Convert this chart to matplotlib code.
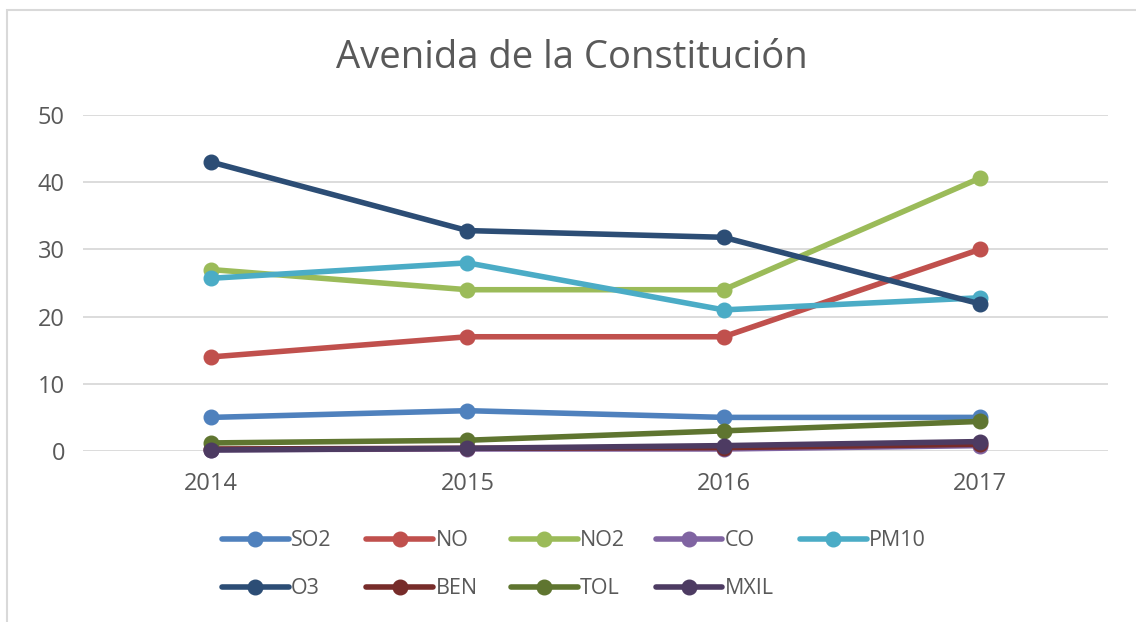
import matplotlib
matplotlib.use("Agg")
import matplotlib.pyplot as plt
from matplotlib.patches import Rectangle

years = ["2014", "2015", "2016", "2017"]
series_names = ["SO2", "NO", "NO2", "CO", "PM10", "O3", "BEN", "TOL", "MXIL"]
so2 = [5, 6, 5, 5]
no = [14, 17, 17, 30]
no2 = [27, 24, 24, 40.6]
co = [0.2, 0.3, 0.3, 0.8]
pm10 = [25.7, 28, 21, 22.8]
o3 = [43, 32.8, 31.8, 21.9]
ben = [0.3, 0.4, 0.5, 1.0]
tol = [1.2, 1.6, 3.0, 4.4]
mxil = [0.15, 0.4, 0.8, 1.4]
values = [so2, no, no2, co, pm10, o3, ben, tol, mxil]
colors = ["#4F81BD", "#C0504D", "#9BBB59", "#8064A2", "#4BACC6",
          "#2C4D75", "#772C2A", "#5F7530", "#4D3B62"]
yticks = [0, 10, 20, 30, 40, 50]

plt.rcParams['font.family'] = ['Open Sans', 'DejaVu Sans']
txt = "#595959"

fig = plt.figure(figsize=(11.36, 6.22), dpi=100)
W, H = 1136, 622
fig.patches.append(Rectangle((7 / W, 1 - 700 / H), 1300 / W, (700 - 10) / H,
                             transform=fig.transFigure, fill=False,
                             edgecolor="#D9D9D9", linewidth=1.5))

ax = fig.add_axes([83 / W, 1 - 451 / H, (1108 - 83) / W, (451 - 115) / H])
x = list(range(len(years)))
handles = []
for name, vals, c in zip(series_names, values, colors):
    ln, = ax.plot(x, vals, color=c, linewidth=4.0, marker="o", markersize=10.5,
                  label=name, solid_capstyle="round", clip_on=False)
    handles.append(ln)

ax.set_xlim(-0.5, 3.5)
ax.set_ylim(0, 50)
ax.set_yticks(yticks)
ax.set_xticks(x)
ax.set_xticklabels(years)
ax.grid(axis="y", color="#D9D9D9", linewidth=1.3)
ax.set_axisbelow(True)
for s in ax.spines.values():
    s.set_visible(False)
ax.tick_params(axis="both", length=0, labelsize=17, colors=txt)
ax.tick_params(axis="y", pad=13)
ax.tick_params(axis="x", pad=15)

fig.text(572 / W, 1 - 58 / H, "Avenida de la Constitución", ha="center", va="center",
         fontsize=27.5, color=txt)

for i, (h, name) in enumerate(zip(handles, series_names)):
    col, row = i % 5, i // 5
    lx = (222 + col * 144.5) / W
    ly = 1 - (541 + row * 48) / H
    leg = fig.legend([h], [name], loc="center left", bbox_to_anchor=(lx, ly),
                     frameon=False, fontsize=15.5, handlelength=3.1,
                     handletextpad=0.1, borderpad=0, borderaxespad=0,
                     numpoints=1, markerscale=1.0)
    for t in leg.get_texts():
        t.set_color(txt)

fig.savefig("out.png", dpi=100)
